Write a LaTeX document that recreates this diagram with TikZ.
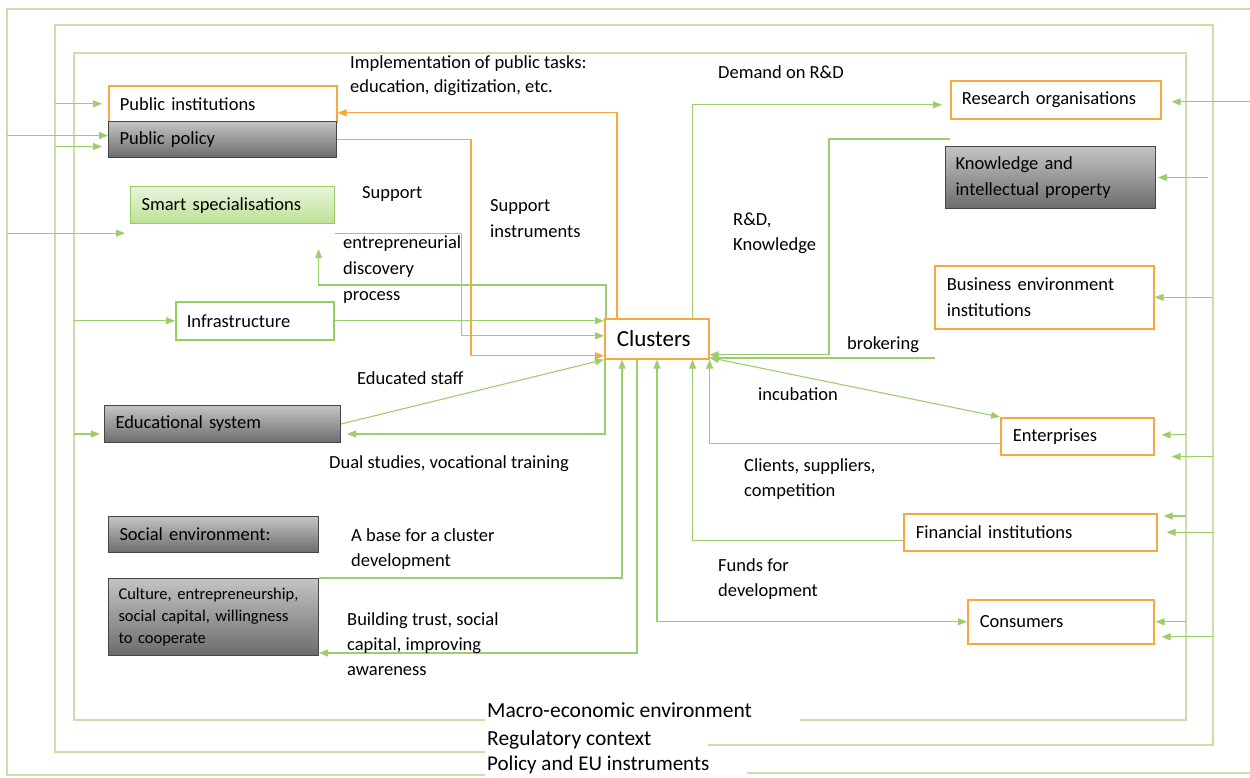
\documentclass[tikz,border=0pt]{standalone}
\usepackage{fontspec}
\setmainfont{Carlito}
\usetikzlibrary{arrows.meta}
\definecolor{lgreen}{RGB}{158,206,108}
\definecolor{fgreen}{RGB}{200,225,168}
\definecolor{sgreen}{RGB}{150,206,100}
\definecolor{sgtop}{RGB}{232,244,220}
\definecolor{sgbot}{RGB}{188,225,150}
\definecolor{orng}{RGB}{247,168,62}
\definecolor{grtop}{RGB}{196,196,196}
\definecolor{grbot}{RGB}{108,108,108}
\definecolor{boxline}{RGB}{70,70,70}

\begin{document}
\begin{tikzpicture}[x=1pt,y=-1pt,
  every node/.style={font=\fontsize{18.5}{25}\selectfont},
  basebox/.style={anchor=north west,inner xsep=11pt,inner ysep=2pt,align=left},
  obox/.style={basebox,draw=orng,line width=1.6pt,fill=white},
  gbox/.style={basebox,draw=boxline,line width=1pt,top color=grtop,bottom color=grbot},
  sbox/.style={basebox,draw=sgreen,line width=1.2pt,top color=sgtop,bottom color=sgbot},
  wbox/.style={basebox,draw=sgreen,line width=1.6pt,fill=white},
  lbl/.style={anchor=north west,inner sep=0pt,align=left},
  envline/.style={draw=fgreen,line width=1.2pt},
  gline/.style={draw=lgreen,line width=1.1pt},
  garrow/.style={gline,-{Triangle[length=9pt,width=7pt]}},
  gboth/.style={gline,{Triangle[length=9pt,width=7pt]}-{Triangle[length=9pt,width=7pt]}},
  oarrow/.style={draw=orng,line width=1.2pt,-{Triangle[length=9pt,width=7pt]}}]
\useasboundingbox (0,0) rectangle (1250,778);

\coordinate (polA) at (7,9);
\coordinate (regB) at (55,25);
\coordinate (macC) at (74,53);
\coordinate (edgeR) at (1250,9);
\coordinate (regR) at (1213,25);
\coordinate (macR) at (1186,53);
\coordinate (brokend) at (935,358);
\draw[envline] (edgeR) -- (polA) -- (7,775) -- (485,775);
\draw[envline] (747,773) -- (1250,773);
\draw[envline] (485,752) -- (55,752) -- (regB) -- (regR) -- (1213,745) -- (708,745);
\draw[envline] (485,720) -- (74,720) -- (macC) -- (macR) -- (1186,720) -- (800,720);

\node[obox,text width=206pt,minimum height=36pt] (pubinst) at (108,85) {Public institutions};
\node[gbox,text width=206pt,minimum height=36pt] (pubpol) at (108,121) {Public policy};
\node[sbox,text width=182pt,minimum height=37pt] (smart) at (130,186) {Smart specialisations};
\node[wbox,text width=136pt,minimum height=38pt] (infra) at (175,301) {Infrastructure};
\node[gbox,text width=214pt,minimum height=37pt] (edu) at (104,405) {Educational system};
\node[gbox,text width=188pt,minimum height=36pt] (socenv) at (108,516) {Social environment:};
\node[gbox,inner xsep=10pt,text width=190pt,minimum height=77pt,font=\fontsize{16.5}{22}\selectfont] (culture) at (108,578) {Culture, entrepreneurship,\\social capital, willingness\\to cooperate};
\node[obox,inner xsep=12pt,text width=80pt,minimum height=40pt,font=\fontsize{23}{28}\selectfont] (clusters) at (604,318) {Clusters};
\node[obox,text width=188pt,minimum height=38pt] (research) at (950,80) {Research organisations};
\node[gbox,inner xsep=10pt,text width=190pt,minimum height=62pt,font=\fontsize{18.5}{26}\selectfont] (knowledge) at (945,146) {Knowledge and\\intellectual property};
\node[obox,inner xsep=12pt,text width=195pt,minimum height=63pt,font=\fontsize{18.5}{26}\selectfont] (business) at (934,265) {Business environment\\institutions};
\node[obox,inner xsep=12pt,text width=129pt,minimum height=37pt] (enterprises) at (1000,417) {Enterprises};
\node[obox,inner xsep=12pt,text width=229pt,minimum height=37pt] (financial) at (903,513) {Financial institutions};
\node[obox,inner xsep=12pt,text width=162pt,minimum height=44pt] (consumers) at (967,599) {Consumers};

\draw[garrow] (regB |- pubinst.west) -- ([xshift=-6pt]pubinst.west);
\draw[garrow] ([yshift=4pt]polA |- pubpol.west) -- ([yshift=4pt]pubpol.west);
\draw[garrow] ([yshift=-7pt]regB |- pubpol.west) -- ([xshift=-6pt,yshift=-7pt]pubpol.west);
\draw[garrow] ([yshift=-9pt]polA |- smart.south west) -- ([xshift=-5pt,yshift=-9pt]smart.south west);
\draw[garrow] (macC |- infra.west) -- (infra.west);
\draw[garrow] ([yshift=-10pt]macC |- edu.west) -- ([xshift=-4pt,yshift=-10pt]edu.west);

\draw[garrow] ([yshift=-2pt]edgeR |- research.east) -- ([xshift=10pt,yshift=-2pt]research.east);
\draw[garrow] ([xshift=-5pt]regR |- knowledge.east) -- ([xshift=2pt]knowledge.east);
\draw[garrow] (regR |- business.east) -- (business.east);
\draw[garrow] ([yshift=1.5pt]macR |- enterprises.east) -- ([xshift=7pt,yshift=1.5pt]enterprises.east);
\draw[garrow] ([yshift=-1pt]regR |- enterprises.south east) -- ([xshift=17pt,yshift=-1pt]enterprises.south east);
\draw[garrow] ([yshift=-3pt]macR |- financial.north east) -- ([xshift=6pt,yshift=-3pt]financial.north east);
\draw[garrow] (regR |- financial.east) -- ([xshift=9pt]financial.east);
\draw[garrow] (macR |- consumers.east) -- ([xshift=1pt]consumers.east);
\draw[garrow] ([yshift=-15pt]regR |- consumers.east) -- ([xshift=7pt,yshift=-15pt]consumers.east);

\draw[oarrow] ([xshift=13pt]clusters.north west) |- ([yshift=-9pt]pubinst.east);
\draw[oarrow] (pubpol.east) -- ++(134,0) |- ([yshift=-17pt]clusters.west);
\draw[garrow] ([yshift=-9pt]smart.south east) -- ++(126,0) |- ([yshift=3pt]clusters.west);
\draw[garrow] ([xshift=2pt]clusters.north west) -- ++(0,-33) -| ([xshift=86pt,yshift=-25pt]smart.south);
\draw[garrow] (infra.east) -- (infra.east -| clusters.west);
\draw[garrow] (edu.east) -- (clusters.south west);
\draw[garrow] ([xshift=1pt]clusters.south west) |- ([xshift=6pt,yshift=-10pt]edu.east);
\draw[garrow] (culture.north east) -| ([xshift=18pt]clusters.south west);
\draw[garrow] ([xshift=33pt]clusters.south west) |- ([yshift=-36pt]culture.east);
\draw[gboth] ([xshift=53pt]clusters.south west) |- (consumers.west);
\draw[garrow] ([yshift=-8pt]financial.west) -| ([xshift=-17pt]clusters.south east);
\draw[garrow] ([yshift=-7pt]enterprises.west) -| (clusters.south east);
\draw[gboth] ([yshift=2pt]clusters.south east) -- (enterprises.north west);
\draw[garrow] (brokend) -- (brokend -| clusters.east);
\draw[garrow] ([xshift=5pt,yshift=7pt]knowledge.north west) -- ++(-121,0) |- ([yshift=-16pt]clusters.east);
\draw[garrow] ([xshift=-17pt]clusters.north east) |- ([xshift=-8pt,yshift=-5pt]research.west);

\node[lbl,font=\fontsize{18.5}{24.5}\selectfont] (impltxt) at (350,55) {Implementation of public tasks:\\education, digitization, etc.};
\node[lbl] (supptxt) at (362,186) {Support};
\node[lbl,font=\fontsize{18.5}{26}\selectfont] (instrtxt) at (490,199) {Support\\instruments};
\node[lbl,font=\fontsize{18.5}{26}\selectfont] (edptxt) at (343,235) {entrepreneurial\\discovery\\process};
\node[lbl] (demandtxt) at (718,65) {Demand on R\&D};
\node[lbl] (rdtxt) at (733,213) {R\&D,\\Knowledge};
\node[lbl] (broktxt) at (847,336) {brokering};
\node[lbl] (incubtxt) at (758,387) {incubation};
\node[lbl] (clienttxt) at (744,458) {Clients, suppliers,\\competition};
\node[lbl] (fundtxt) at (718,558) {Funds for\\development};
\node[lbl] (stafftxt) at (357,371) {Educated staff};
\node[lbl] (dualtxt) at (329,455) {Dual studies, vocational training};
\node[lbl] (basetxt) at (351,528) {A base for a cluster\\development};
\node[lbl] (trusttxt) at (347,612) {Building trust, social\\capital, improving\\awareness};
\node[lbl,font=\fontsize{21.5}{26}\selectfont] (macrotxt) at (487,703) {Macro-economic environment};
\node[lbl,font=\fontsize{21.5}{26}\selectfont] (regtxt) at (487,730) {Regulatory context};
\node[lbl,font=\fontsize{21}{26}\selectfont] (poltxt) at (487,756) {Policy and EU instruments};
\end{tikzpicture}
\end{document}
